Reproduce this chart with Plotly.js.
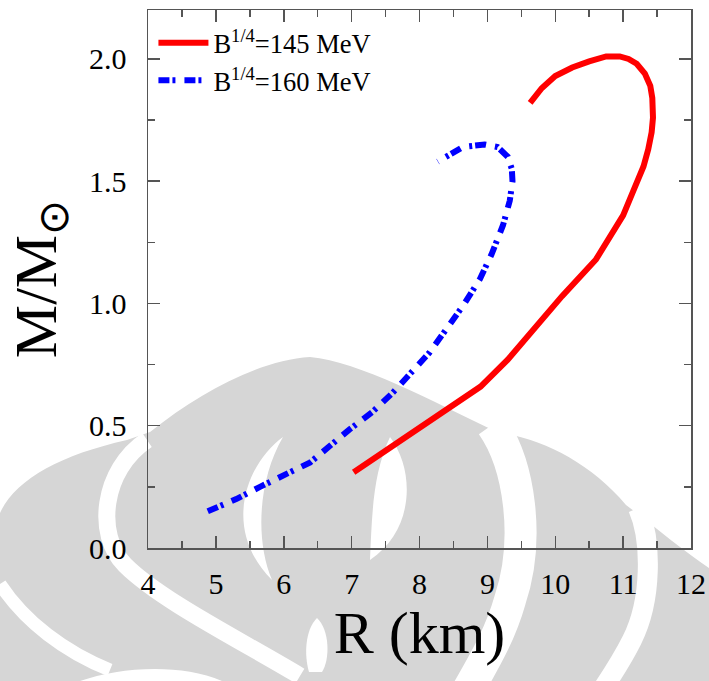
<!DOCTYPE html>
<html><head><meta charset="utf-8">
<script src="https://cdn.plot.ly/plotly-3.0.1.min.js"></script>
<style>html,body{margin:0;padding:0;background:#fff;}#chart{width:709px;height:681px;}</style>
</head><body><div id="chart"></div>
<script>
// ---- data ----
const radius145 = [7.03, 8.0, 8.9, 9.3, 9.7, 10.1, 10.6, 11.0, 11.15, 11.3, 11.37, 11.42, 11.44, 11.43, 11.40, 11.32, 11.2, 11.08, 10.95, 10.75, 10.5, 10.25, 10.0, 9.8, 9.63];
const mass145   = [0.31, 0.49, 0.66, 0.77, 0.90, 1.03, 1.18, 1.36, 1.46, 1.56, 1.63, 1.70, 1.76, 1.84, 1.89, 1.94, 1.98, 2.0, 2.01, 2.01, 1.99, 1.965, 1.93, 1.88, 1.82];
const radius160 = [4.88, 5.3, 5.65, 6.0, 6.39, 6.97, 7.3, 7.61, 8.15, 8.64, 8.89, 9.06, 9.23, 9.33, 9.37, 9.36, 9.30, 9.15, 8.96, 8.64, 8.27];
const mass160   = [0.15, 0.20, 0.25, 0.30, 0.35, 0.485, 0.555, 0.636, 0.80, 0.99, 1.10, 1.20, 1.32, 1.42, 1.50, 1.55, 1.60, 1.64, 1.65, 1.64, 1.58];
const seriesNames = ['B<sup>1/4</sup>=145 MeV', 'B<sup>1/4</sup>=160 MeV'];
const xTickValues = [4, 5, 6, 7, 8, 9, 10, 11, 12];
const yTickValues = [0.0, 0.5, 1.0, 1.5, 2.0];
const xTitle = 'R (km)';
const yTitle = 'M/M<sub>⊙</sub>';

// ---- layout helpers ----
const W = 709, H = 681;
const M = {l: 148, r: 18, t: 10, b: 133};
const PL = M.l, PR = W - M.r, PT = M.t, PB = H - M.b;
function toPaperPath(s) {
  return s.replace(/(-?\d+(?:\.\d+)?),(-?\d+(?:\.\d+)?)/g, function (_, a, b) {
    const x = (parseFloat(a) - PL) / (PR - PL);
    const y = (PB - parseFloat(b)) / (PB - PT);
    return x.toFixed(4) + ',' + y.toFixed(4);
  });
}
const WM = '#d6d6d6';
function grayShape(p) {
  return {type: 'path', xref: 'paper', yref: 'paper', layer: 'below', path: toPaperPath(p),
          fillcolor: WM, line: {width: 0}};
}
function whiteBand(p, w) {
  return {type: 'path', xref: 'paper', yref: 'paper', layer: 'below', path: toPaperPath(p),
          fillcolor: 'rgba(0,0,0,0)', line: {color: '#ffffff', width: w}};
}
function whiteFill(p) {
  return {type: 'path', xref: 'paper', yref: 'paper', layer: 'below', path: toPaperPath(p),
          fillcolor: '#ffffff', line: {width: 0}};
}
// faint watermark in the background of the reference
const watermark = [
  grayShape('M 0,513 C 15,480 60,455 127,440 L 150,432 C 200,392 260,360 310,357 C 360,362 430,400 499,433 C 540,438 590,462 626,505 L 646,520 C 670,540 690,555 709,568 L 709,681 L 0,681 Z'),
  whiteBand('M 147,440 C 102,470 95,535 125,565 C 160,600 240,640 300,676', 17),
  whiteBand('M 0,584 C 25,622 65,652 110,670', 13),
  whiteFill('M 80,681 C 120,667 180,663 222,681 Z'),
  whiteFill('M 283,437 C 245,465 222,530 272,580 C 255,540 258,480 283,437 Z'),
  whiteFill('M 390,437 C 415,470 415,530 370,560 C 372,520 372,475 390,437 Z'),
  whiteFill('M 317,618 C 330,630 330,660 322,672 L 309,672 C 304,655 305,630 317,618 Z'),
  whiteBand('M 492,425 C 520,465 530,540 510,600 C 500,635 485,660 468,690', 32),
  whiteBand('M 638,508 C 652,540 652,600 632,640 C 622,660 612,675 602,690', 20)
];

const serif = 'Liberation Serif, Times New Roman, serif';
const axisFont = {family: serif, size: 30, color: '#000'};
const frame = {
  showline: true, linecolor: '#555', linewidth: 1.5, mirror: 'allticks',
  ticks: 'inside', ticklen: 12, tickwidth: 1.5, tickcolor: '#555',
  showgrid: false, zeroline: false, tickfont: axisFont, automargin: false
};

const traces = [
  {x: radius145, y: mass145, name: seriesNames[0], type: 'scatter', mode: 'lines',
   line: {color: '#ff0000', width: 6}},
  {x: radius160, y: mass160, name: seriesNames[1], type: 'scatter', mode: 'lines',
   line: {color: '#0000ff', width: 6, dash: '11px,3px,3px,9px'}}
];

const layout = {
  width: W, height: H, margin: M,
  paper_bgcolor: '#ffffff', plot_bgcolor: 'rgba(0,0,0,0)',
  font: {family: serif, color: '#000'},
  xaxis: Object.assign({}, frame, {
    range: [4, 12], tickvals: xTickValues, ticktext: xTickValues.map(String),
    minor: {dtick: 0.5, tick0: 4, ticks: 'inside', ticklen: 7, tickwidth: 1.5, tickcolor: '#555'},
    ticklabelstandoff: 8,
    title: {text: xTitle, font: {size: 60, family: serif}, standoff: 10}
  }),
  yaxis: Object.assign({}, frame, {
    range: [0, 2.2], tickvals: yTickValues, ticktext: yTickValues.map(v => v.toFixed(1)),
    minor: {dtick: 0.25, tick0: 0, ticks: 'inside', ticklen: 7, tickwidth: 1.5, tickcolor: '#555'},
    ticklabelstandoff: 14,
    title: {text: yTitle, font: {size: 60, family: serif}, standoff: 13}
  }),
  showlegend: true,
  legend: {x: 0.01, y: 0.983, xanchor: 'left', yanchor: 'top', bgcolor: 'rgba(0,0,0,0)',
           borderwidth: 0, font: {size: 26.5, family: serif},
           itemwidth: 50, tracegroupgap: 0},
  shapes: watermark
};

Plotly.newPlot('chart', traces, layout, {displayModeBar: false, staticPlot: true});
</script>
</body></html>
